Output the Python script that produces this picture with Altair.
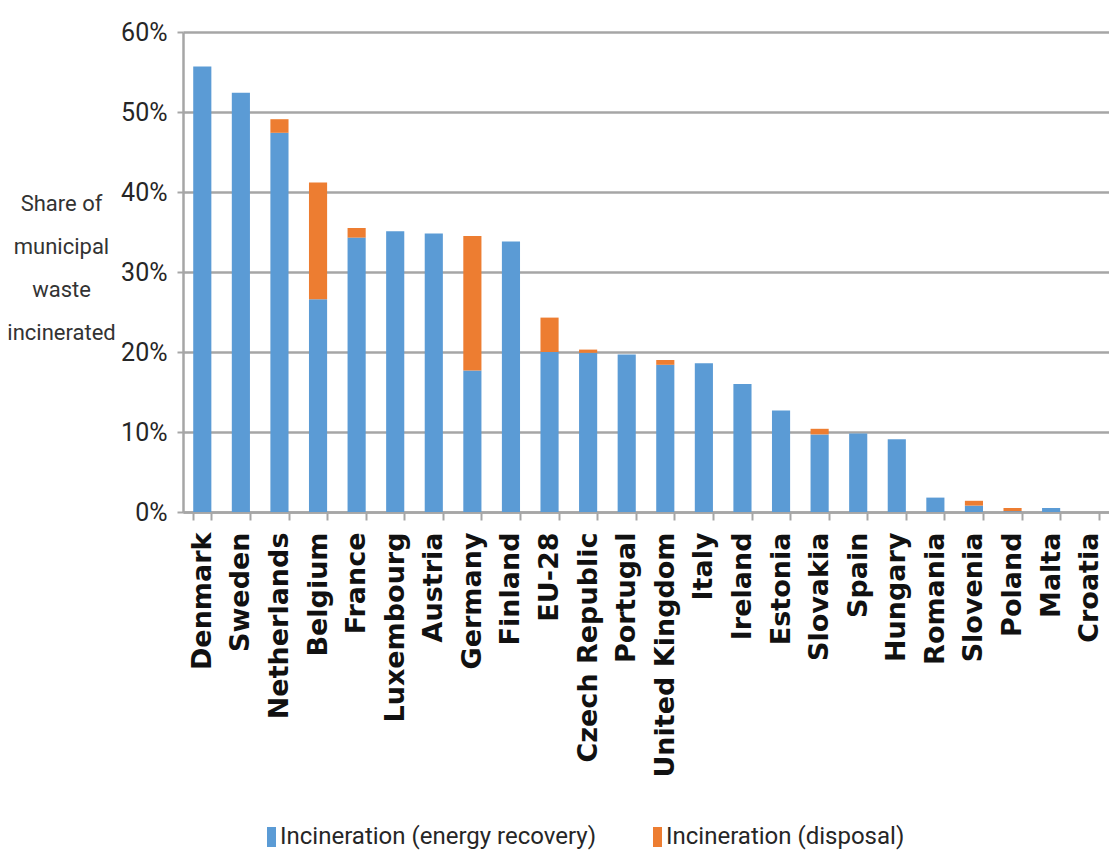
import altair as alt
import pandas as pd

# Share of municipal waste incinerated, by country (percent)
countries = [
    "Denmark", "Sweden", "Netherlands", "Belgium", "France", "Luxembourg",
    "Austria", "Germany", "Finland", "EU-28", "Czech Republic", "Portugal",
    "United Kingdom", "Italy", "Ireland", "Estonia", "Slovakia", "Spain",
    "Hungary", "Romania", "Slovenia", "Poland", "Malta", "Croatia",
]
energy_recovery = [
    55.7, 52.4, 47.4, 26.6, 34.3, 35.1, 34.8, 17.7, 33.8, 20.0, 19.9, 19.7,
    18.4, 18.6, 16.0, 12.7, 9.7, 9.8, 9.1, 1.8, 0.8, 0.1, 0.5, 0.0,
]
disposal = [
    0.0, 0.0, 1.7, 14.6, 1.2, 0.0, 0.0, 16.8, 0.0, 4.3, 0.4, 0.0,
    0.6, 0.0, 0.0, 0.0, 0.7, 0.0, 0.0, 0.0, 0.6, 0.4, 0.0, 0.0,
]
series = ["Incineration (energy recovery)", "Incineration (disposal)"]
colors = ["#5B9BD5", "#ED7D31"]
y_ticks = [0, 10, 20, 30, 40, 50, 60]

rows = []
for c, e, d in zip(countries, energy_recovery, disposal):
    rows.append({"country": c, "series": series[0], "k": 0, "value": e})
    rows.append({"country": c, "series": series[1], "k": 1, "value": d})
df = pd.DataFrame(rows)

GRID = "#a6a6a6"
sans = "Roboto, sans-serif"

chart = (
    alt.Chart(df)
    .mark_bar()
    .encode(
        x=alt.X(
            "country:N",
            sort=countries,
            scale=alt.Scale(paddingInner=0.53, paddingOuter=0.265),
            axis=alt.Axis(
                title=None,
                labelAngle=270,
                labelAlign="right",
                labelBaseline="middle",
                labelFont="DejaVu Sans",
                labelFontWeight="bold",
                labelFontSize=27,
                labelColor="#111111",
                labelPadding=12,
                labelLimit=0,
                tickBand="extent",
                tickSize=8,
                tickWidth=2,
                tickColor=GRID,
                domainColor=GRID,
                domainWidth=2.5,
                labelOverlap=False,
            ),
        ),
        y=alt.Y(
            "value:Q",
            stack="zero",
            scale=alt.Scale(domain=[0, 60], nice=False),
            axis=alt.Axis(
                values=y_ticks,
                labelExpr="datum.value + '%'",
                labelFont=sans,
                labelFontSize=25,
                labelColor="#262626",
                labelPadding=10,
                labelLimit=0,
                tickSize=6,
                tickWidth=2,
                tickColor=GRID,
                domainColor=GRID,
                domainWidth=2.5,
                grid=True,
                gridColor=GRID,
                gridWidth=2.5,
                title=["Share of", "municipal", "waste", "incinerated"],
                titleAngle=0,
                titleAlign="center",
                titleBaseline="top",
                titleFont=sans,
                titleFontSize=22,
                titleFontWeight="normal",
                titleColor="#333333",
                titleLineHeight=43,
                titleX=-122,
                titleY=161,
            ),
        ),
        color=alt.Color(
            "series:N",
            scale=alt.Scale(domain=series, range=colors),
            legend=alt.Legend(
                title=None,
                orient="none",
                direction="horizontal",
                legendX=71,
                legendY=793,
                # tall swatch drawn on the right half of its slot, next to the label
                symbolType="M0.1,-1H1V1H0.1Z",
                symbolSize=400,
                symbolStrokeWidth=0,
                labelFont=sans,
                labelFontSize=24,
                labelColor="#262626",
                labelOffset=2,
                labelLimit=0,
                columnPadding=43,
            ),
        ),
        order=alt.Order("k:Q", sort="ascending"),
    )
    .properties(
        width=926,
        height=480,
        padding={"left": 183, "top": 32, "right": 0, "bottom": 345},
        autosize="none",
        background="white",
    )
    .configure_view(stroke=None)
)

chart.save("out.html", embed_options={"renderer": "svg", "actions": False})
